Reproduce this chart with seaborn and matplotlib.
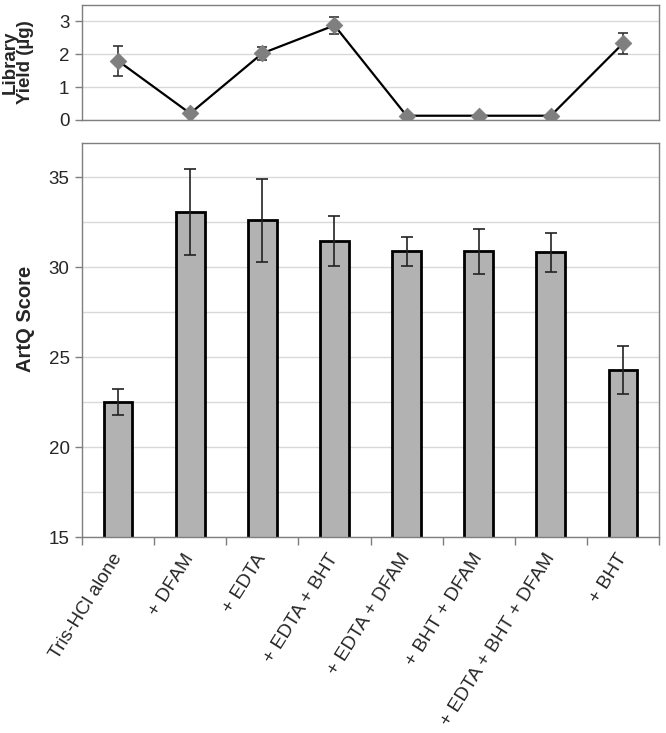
import numpy as np
import pandas as pd
import matplotlib
matplotlib.use("Agg")
import matplotlib.pyplot as plt
import seaborn as sns
from matplotlib.ticker import MultipleLocator

# Chart data
conditions = ["Tris-HCl alone", "+ DFAM", "+ EDTA", "+ EDTA + BHT",
              "+ EDTA + DFAM", "+ BHT + DFAM", "+ EDTA + BHT + DFAM", "+ BHT"]
artq_score = [22.5, 33.07, 32.6, 31.46, 30.88, 30.87, 30.82, 24.26]
artq_err = [0.7, 2.4, 2.3, 1.4, 0.8, 1.25, 1.1, 1.33]
library_yield = [1.8, 0.2, 2.03, 2.88, 0.13, 0.13, 0.13, 2.33]
yield_err = [0.45, 0.0, 0.19, 0.27, 0.0, 0.0, 0.0, 0.33]

df = pd.DataFrame({"condition": conditions, "artq": artq_score, "artq_err": artq_err,
                   "yield": library_yield, "yield_err": yield_err})
df["pos"] = np.arange(len(df))

sns.set_style("white")
plt.rcParams["font.family"] = ["Liberation Sans", "DejaVu Sans"]

fig = plt.figure(figsize=(6.66, 7.33), dpi=100)
ax_top = fig.add_axes([82 / 666, 1 - 120 / 733, 577 / 666, 115 / 733])
ax = fig.add_axes([82 / 666, 1 - 537 / 733, 577 / 666, 394 / 733])

spine_color = "#7f7f7f"
grid_color = "#d9d9d9"

# Top panel: library yield
ax_top.errorbar(df["pos"], df["yield"], yerr=df["yield_err"], fmt="none",
                ecolor="#333333", elinewidth=1.2, capsize=3.5, capthick=1.2, zorder=2)
sns.lineplot(data=df, x="pos", y="yield", color="black", linewidth=1.6,
             ax=ax_top, zorder=3)
sns.scatterplot(data=df, x="pos", y="yield", marker="D", s=70, color="#7f7f7f",
                edgecolor="#7f7f7f", ax=ax_top, zorder=4)
ax_top.set_xlim(-0.5, len(df) - 0.5)
ax_top.set_ylim(0, 3.5)
ax_top.set_yticks([0, 1, 2, 3])
ax_top.set_xticks([])
ax_top.set_xlabel("")
ax_top.yaxis.grid(True, color=grid_color, linewidth=1)
ax_top.set_axisbelow(True)
ax_top.tick_params(axis="y", which="major", left=True, length=5, width=1,
                   color=spine_color, labelsize=13.5, pad=4)
ax_top.set_ylabel("Library\nYield (\u00b5g)", fontsize=13.5, fontweight="bold",
                  linespacing=0.9)
ax_top.yaxis.set_label_coords(-0.083, 0.5)
for s in ax_top.spines.values():
    s.set_color(spine_color)
    s.set_linewidth(1)

# Bottom panel: ArtQ score
sns.barplot(data=df, x="condition", y="artq", color="#b2b2b2", width=0.4,
            edgecolor="black", linewidth=2, saturation=1, ax=ax)
ax.errorbar(df["pos"], df["artq"], yerr=df["artq_err"], fmt="none",
            ecolor="#222222", elinewidth=1.2, capsize=4, capthick=1.2, zorder=5)
ax.set_xlim(-0.5, len(df) - 0.5)
ax.set_ylim(15, 36.9)
ax.yaxis.set_major_locator(MultipleLocator(5))
ax.yaxis.set_minor_locator(MultipleLocator(2.5))
ax.yaxis.grid(True, which="both", color=grid_color, linewidth=1)
ax.set_axisbelow(True)
ax.tick_params(axis="y", which="major", left=True, length=5, width=1,
               color=spine_color, labelsize=13.5, pad=4)
ax.tick_params(axis="y", which="minor", left=False, length=0)

ax.set_xticks(np.arange(len(df)))
ax.set_xticklabels(conditions, rotation=58, ha="right", va="center",
                   rotation_mode="anchor", fontsize=13.8)
ax.tick_params(axis="x", which="major", bottom=False, length=0, pad=13)
ax.xaxis.set_minor_locator(MultipleLocator(1, offset=0.5))
ax.tick_params(axis="x", which="minor", bottom=True, length=6, width=1,
               color=spine_color)
ax.set_xlabel("")
ax.set_ylabel("ArtQ Score", fontsize=14.5, fontweight="bold")
ax.yaxis.set_label_coords(-0.082, 0.553)
for s in ax.spines.values():
    s.set_color(spine_color)
    s.set_linewidth(1)

fig.savefig("out.png", dpi=100, facecolor="white")
